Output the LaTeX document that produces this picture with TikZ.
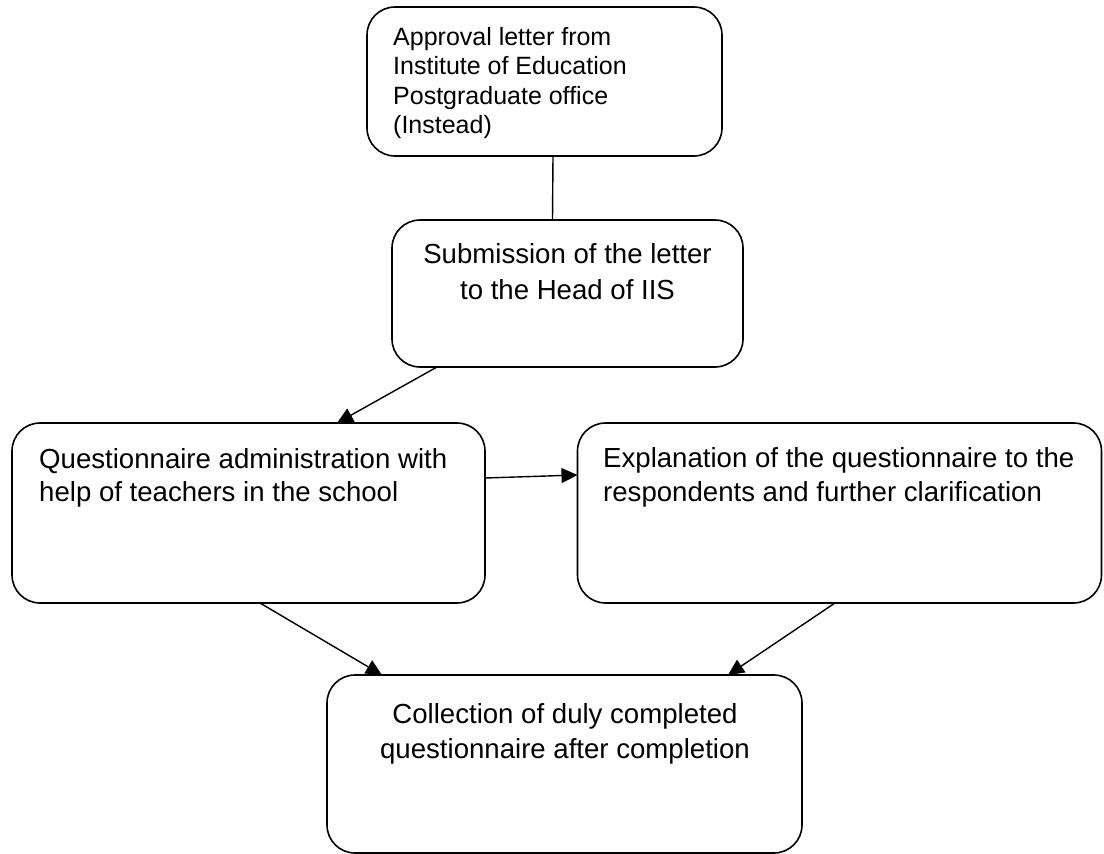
\documentclass[tikz,border=0pt]{standalone}
\usepackage{fontspec}
\setmainfont{Liberation Sans}
\usetikzlibrary{arrows.meta,calc}
\tikzset{
  box/.style={draw=black, line width=1.6pt, rounded corners=28pt, inner sep=0pt, outer sep=0pt, fill=white},
  bigtext/.style={inner sep=0pt, font=\fontsize{27.6}{33}\selectfont},
  smalltext/.style={inner sep=0pt, font=\fontsize{25}{29.5}\selectfont},
  link/.style={draw=black, line width=1.4pt},
  arr/.style={link, -{Triangle[length=16pt,width=15pt]}}
}
\begin{document}
\begin{tikzpicture}[x=1pt,y=-1pt]
\useasboundingbox (0,0) rectangle (1104,854);
% boxes
\node[box, minimum width=355pt, minimum height=149pt] (top) at (544.5,81.5) {};
\node[box, minimum width=351pt, minimum height=147pt] (second) at (567.5,293.5) {};
\node[box, minimum width=473pt, minimum height=180pt] (left) at (248.5,513) {};
\node[box, minimum width=524pt, minimum height=180pt] (right) at (839.5,513) {};
\node[box, minimum width=475pt, minimum height=178pt] (bottom) at (564.5,764) {};
% texts
\node[smalltext, anchor=north west, align=left] (ttop) at (393,27)
  {Approval letter from\\Institute of Education\\Postgraduate office\\(Instead)};
\node[bigtext, anchor=north, align=center, font=\fontsize{27.6}{36}\selectfont] (tsecond) at (567.5,243)
  {Submission of the letter\\to the Head of IIS};
\node[bigtext, anchor=north west, align=left] (tleft) at (39,448)
  {Questionnaire administration with\\help of teachers in the school};
\node[bigtext, anchor=north west, align=left, font=\fontsize{27.6}{34}\selectfont] (tright) at (603,447)
  {Explanation of the questionnaire to the\\respondents and further clarification};
\node[bigtext, anchor=north, align=center, font=\fontsize{27.6}{35}\selectfont] (tbottom) at (565,703)
  {Collection of duly completed\\questionnaire after completion};
% connectors
\draw[link] ($(top.south)+(8.5,0)$) -- ($(second.north)+(-15,0)$);
\draw[arr] ($(second.south)+(-130.5,0)$) -- ($(left.north)+(88.5,0)$);
\draw[arr] ($(left.east)+(0,-35)$) -- ($(right.west)+(0,-38)$);
\draw[arr] ($(left.south)+(11.5,0)$) -- ($(bottom.north)+(-182.5,0)$);
\draw[arr] ($(right.south)+(-4.5,0)$) -- ($(bottom.north)+(163.5,0)$);
\end{tikzpicture}
\end{document}
